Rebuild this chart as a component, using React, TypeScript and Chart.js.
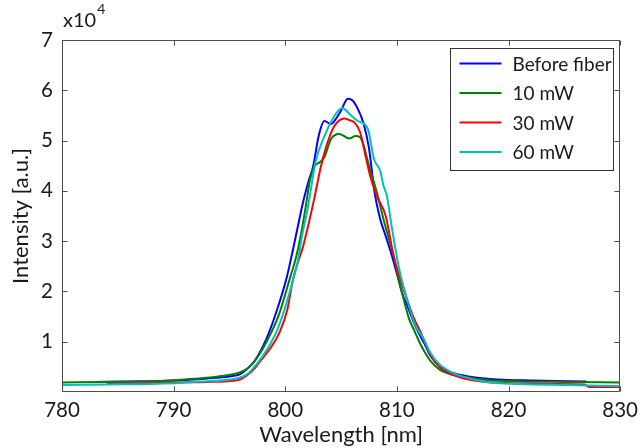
import React, { useEffect, useRef } from 'react';
import { Chart, registerables } from 'chart.js';

Chart.register(...registerables);

// ---- data ----
const xTickValues = [780, 790, 800, 810, 820, 830];
const yTickValues = [10000, 20000, 30000, 40000, 50000, 60000, 70000];

const seriesLabels = ['Before fiber', '10 mW', '30 mW', '60 mW'];
const seriesColors = ['#0000ff', '#008000', '#ff0000', '#00bfbf'];

const beforeWl = [783, 786, 790, 793, 795, 796, 797, 797.4, 798.3, 799.2, 800.1, 800.7, 801.6, 802.1, 802.5, 803, 803.5, 804.1, 804.5, 805, 805.6, 806, 806.5, 807, 807.5, 808, 808.5, 809, 809.5, 810, 810.5, 811, 811.5, 812, 812.5, 813, 814, 815, 817, 819, 822, 827];
const beforeI = [2000, 2100, 2300, 2700, 3100, 3600, 5500, 6600, 10500, 15900, 22500, 28400, 37800, 42000, 44900, 51000, 53900, 53300, 54200, 56000, 58300, 58000, 56300, 53500, 48500, 39700, 34400, 31000, 27500, 23500, 19500, 16800, 13900, 11500, 9500, 7200, 4700, 3800, 2900, 2500, 2300, 2100];

const mw10Wl = [780, 784, 788, 791, 794, 795.8, 796.5, 797, 797.6, 798.3, 799.4, 800.4, 801, 801.5, 801.9, 802.2, 802.6, 803.1, 803.5, 804.1, 804.8, 805.2, 805.7, 806.3, 806.7, 807.05, 807.5, 808.2, 808.9, 809.7, 810.2, 810.6, 811.1, 811.5, 812, 812.5, 813, 813.8, 815, 816, 818, 821, 825, 830];
const mw10I = [1900, 2000, 2100, 2500, 3100, 3800, 4500, 5500, 7200, 9900, 15200, 22500, 27100, 32500, 37800, 42000, 44800, 45700, 46700, 50300, 51300, 51000, 50400, 50900, 50700, 48800, 45000, 39700, 33500, 27100, 22000, 18500, 14500, 12500, 10000, 7900, 6200, 4500, 3400, 3000, 2400, 2100, 2000, 1900];

const mw30Wl = [784, 787, 790, 793, 795.8, 796.5, 797.3, 797.7, 798.6, 799.5, 800.2, 800.7, 801.6, 802.1, 802.6, 803.2, 803.8, 804.4, 805.3, 805.7, 806.2, 806.7, 807.2, 807.6, 808.2, 809, 809.7, 810.3, 810.9, 811.5, 812.1, 812.5, 813, 813.8, 815, 816, 818, 821, 824, 826.8, 827.2, 830];
const mw30I = [1600, 1700, 1900, 2000, 2400, 3200, 4800, 6000, 8500, 11900, 16500, 22500, 29000, 33500, 38500, 44900, 49700, 52900, 54400, 54100, 53600, 51700, 46900, 43000, 39000, 35000, 27100, 22500, 18500, 14800, 12000, 10000, 7500, 5000, 3400, 2700, 2000, 1700, 1600, 1500, 1000, 1000];

const mw60Wl = [780, 784, 788, 792, 795.8, 796.5, 797, 798, 799.2, 799.95, 800.6, 801.1, 801.5, 802, 802.3, 802.7, 803.4, 804.4, 805.1, 805.8, 806.5, 807.4, 807.95, 808.5, 808.8, 809.1, 809.6, 810.2, 810.9, 811.6, 812.4, 813, 813.8, 815, 816, 818, 821, 825, 830];
const mw60I = [1400, 1500, 1600, 2000, 2800, 3400, 4400, 7200, 11900, 16500, 21500, 25800, 31000, 36400, 40400, 45700, 50300, 54900, 56500, 55200, 53900, 52300, 46300, 44000, 41000, 39000, 32000, 24500, 18500, 13500, 10500, 7800, 5500, 3800, 3000, 2000, 1600, 1400, 1200];

const seriesWl = [beforeWl, mw10Wl, mw30Wl, mw60Wl];
const seriesI = [beforeI, mw10I, mw30I, mw60I];

const FONT = 'Lato, "Open Sans", sans-serif';
const AXIS_COLOR = '#4d4d4d';
const TEXT_COLOR = '#1a1a1a';

const framePlugin = {
  id: 'frame',
  afterDraw(chart: any) {
    const { ctx, chartArea } = chart;
    const { left, right, top, bottom } = chartArea;
    const xs = chart.scales.x;
    const ys = chart.scales.y;
    ctx.save();
    ctx.strokeStyle = AXIS_COLOR;
    ctx.lineWidth = 1;
    const L = Math.round(left) + 0.5;
    const R = Math.round(right) - 0.5;
    const T = Math.round(top) + 0.5;
    const B = Math.round(bottom) - 0.5;
    ctx.beginPath();
    ctx.rect(L, T, R - L, B - T);
    ctx.stroke();
    const tl = 5;
    ctx.beginPath();
    xTickValues.forEach((v) => {
      const px = Math.round(xs.getPixelForValue(v)) + 0.5;
      ctx.moveTo(px, B);
      ctx.lineTo(px, B - tl);
      ctx.moveTo(px, T);
      ctx.lineTo(px, T + tl);
    });
    yTickValues.forEach((v) => {
      const py = Math.round(ys.getPixelForValue(v)) + 0.5;
      ctx.moveTo(L, py);
      ctx.lineTo(L + tl, py);
      ctx.moveTo(R, py);
      ctx.lineTo(R - tl, py);
    });
    ctx.stroke();

    // exponent label
    ctx.fillStyle = TEXT_COLOR;
    ctx.textBaseline = 'alphabetic';
    ctx.textAlign = 'left';
    ctx.font = `20px ${FONT}`;
    ctx.fillText('x10', left + 1, top - 13);
    const w = ctx.measureText('x10').width;
    ctx.font = `14px ${FONT}`;
    ctx.fillText('4', left + 2 + w, top - 26);

    // legend
    const bx = Math.round(right) - 169.5;
    const by = Math.round(top) + 8.5;
    const bw = 163;
    const bh = 122;
    ctx.fillStyle = '#ffffff';
    ctx.fillRect(bx, by, bw, bh);
    ctx.strokeStyle = '#333333';
    ctx.strokeRect(bx, by, bw, bh);
    ctx.font = `19px ${FONT}`;
    ctx.textBaseline = 'middle';
    seriesLabels.forEach((lab, i) => {
      const cy = by + 15 + i * 29.5;
      ctx.strokeStyle = seriesColors[i];
      ctx.lineWidth = 2;
      ctx.beginPath();
      ctx.moveTo(bx + 9, cy);
      ctx.lineTo(bx + 51, cy);
      ctx.stroke();
      ctx.fillStyle = TEXT_COLOR;
      ctx.fillText(lab, bx + 62, cy + 1);
    });
    ctx.restore();
  },
};

export default function App() {
  const ref = useRef<HTMLCanvasElement | null>(null);

  useEffect(() => {
    document.body.style.margin = '0';
    const canvas = ref.current;
    if (!canvas) return;
    const datasets = seriesLabels.map((label, i) => ({
      label,
      data: seriesWl[i].map((x, j) => ({ x, y: seriesI[i][j] })),
      borderColor: seriesColors[i],
      backgroundColor: seriesColors[i],
      borderWidth: 2,
      pointRadius: 0,
      fill: false,
      cubicInterpolationMode: 'monotone' as const,
      order: 3 - i,
    }));
    const chart = new Chart(canvas, {
      type: 'line',
      data: { datasets },
      plugins: [framePlugin],
      options: {
        responsive: false,
        animation: false,
        layout: { padding: { top: 40, right: 19, left: 0, bottom: 0 } },
        plugins: { legend: { display: false }, tooltip: { enabled: false } },
        scales: {
          x: {
            type: 'linear',
            min: 780,
            max: 830,
            afterBuildTicks: (s: any) => {
              s.ticks = xTickValues.map((v) => ({ value: v }));
            },
            afterFit: (s: any) => {
              s.height = 56;
            },
            grid: { display: false, drawTicks: false },
            border: { display: false },
            ticks: {
              color: TEXT_COLOR,
              font: { family: FONT, size: 20.5 },
              padding: 6,
              maxRotation: 0,
              autoSkip: false,
            },
            title: {
              display: true,
              text: 'Wavelength [nm]',
              color: TEXT_COLOR,
              font: { family: FONT, size: 22 },
              padding: { top: 0, bottom: 0 },
            },
          },
          y: {
            type: 'linear',
            min: 0,
            max: 70000,
            afterBuildTicks: (s: any) => {
              s.ticks = yTickValues.map((v) => ({ value: v }));
            },
            afterFit: (s: any) => {
              s.width = 62;
            },
            grid: { display: false, drawTicks: false },
            border: { display: false },
            ticks: {
              color: TEXT_COLOR,
              font: { family: FONT, size: 20.5 },
              padding: 9,
              callback: (v: any) => String(Number(v) / 10000),
            },
            title: {
              display: true,
              text: 'Intensity [a.u.]',
              color: TEXT_COLOR,
              font: { family: FONT, size: 22 },
              padding: { top: 8, bottom: 0 },
            },
          },
        },
      },
    });
    return () => chart.destroy();
  }, []);

  return (
    <div style={{ width: 644, height: 448 }}>
      <canvas ref={ref} width={644} height={448} style={{ display: 'block' }} />
    </div>
  );
}
